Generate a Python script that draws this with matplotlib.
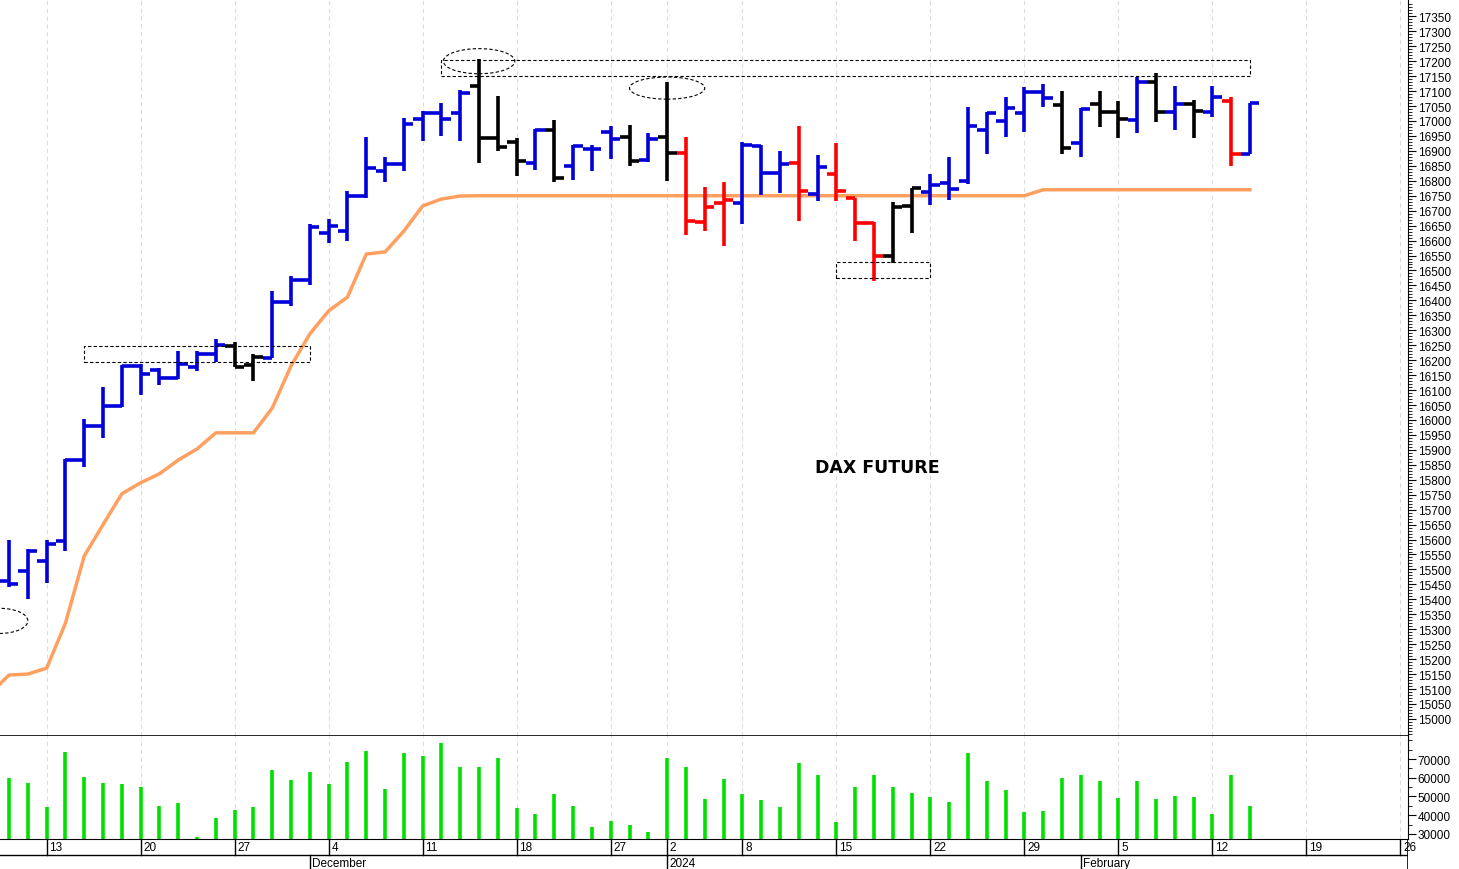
import matplotlib
matplotlib.use("Agg")
import matplotlib.pyplot as plt
from matplotlib.patches import Rectangle, Ellipse

plt.rcParams['font.family'] = ['Liberation Sans', 'DejaVu Sans']

# daily OHLC, Nov 9 2023 .. Feb 14 2024 (trading days)
opens = [15460, 15495, 15529, 15595, 15866, 15980, 16047, 16180, 16167, 16140,
         16177, 16221, 16247, 16184, 16207, 16395, 16468, 16625, 16632, 16749,
         16833, 16856, 17007, 17027, 17027, 17117, 16943, 16930, 16860, 16970,
         16850, 16906, 16963, 16946, 16870, 16946, 16893, 16662, 16726, 16726,
         16916, 16826, 16860, 16756, 16823, 16743, 16659, 16549, 16716, 16761,
         16794, 16800, 16971, 17001, 17027, 17096, 17053, 16926, 17057, 17031,
         17003, 17132, 17031, 17057, 17029, 17068, 16891]
highs = [15600, 15569, 15599, 15870, 16003, 16110, 16184, 16187, 16174, 16231,
         16231, 16271, 16261, 16221, 16432, 16482, 16656, 16672, 16766, 16946,
         16880, 17010, 17033, 17060, 17104, 17207, 17084, 16943, 16973, 17003,
         16920, 16920, 16983, 16987, 16960, 17130, 16946, 16779, 16796, 16930,
         16920, 16900, 16983, 16886, 16926, 16743, 16662, 16729, 16776, 16822,
         16878, 17046, 17029, 17081, 17113, 17124, 17099, 17043, 17099, 17068,
         17146, 17160, 17116, 17071, 17116, 17079, 17060]
lows = [15440, 15402, 15455, 15562, 15843, 15940, 16044, 16084, 16117, 16137,
        16164, 16194, 16177, 16130, 16207, 16381, 16452, 16592, 16599, 16743,
        16796, 16833, 16933, 16950, 16933, 16860, 16900, 16816, 16836, 16796,
        16803, 16833, 16873, 16850, 16863, 16799, 16619, 16632, 16582, 16656,
        16753, 16759, 16666, 16732, 16732, 16599, 16465, 16525, 16625, 16719,
        16735, 16789, 16889, 16948, 16962, 17046, 16889, 16878, 16979, 16943,
        16960, 16998, 16971, 16943, 17014, 16850, 16889]
closes = [15450, 15562, 15585, 15866, 15980, 16047, 16180, 16154, 16140, 16187,
          16221, 16251, 16177, 16211, 16395, 16468, 16646, 16649, 16749, 16843,
          16856, 16990, 17027, 17007, 17094, 16943, 16913, 16866, 16970, 16809,
          16916, 16906, 16940, 16866, 16940, 16893, 16666, 16712, 16736, 16920,
          16826, 16856, 16766, 16846, 16766, 16659, 16549, 16712, 16776, 16785,
          16774, 16984, 17027, 17043, 17096, 17076, 16909, 17040, 17031, 17006,
          17132, 17031, 17057, 17034, 17079, 16891, 17060]
bar_colors = list("BBBBBBBBBBBBKKBBBBBBBBBBBKKKBKBBBKBKRRRBBBRBRRRKKBBBBBBBKBKKBKBKBRB")
# moving average starts one day earlier (Nov 8)
moving_avg = [15085, 15147, 15150, 15170, 15320, 15545, 15650, 15753, 15790, 15820,
              15866, 15903, 15957, 15957, 15957, 16040, 16181, 16288, 16365, 16411,
              16555, 16562, 16632, 16716, 16739, 16749] + [16750] * 30 + [16770] * 12
volume = [60100, 57400, 44200, 73900, 60400, 57400, 56900, 55300, 44700, 46600,
          28600, 38500, 42900, 44200, 64300, 59000, 63100, 56900, 68200, 74200,
          53900, 73400, 71800, 78500, 65600, 65900, 70700, 43800, 40600, 51200,
          44700, 33900, 36700, 34800, 31200, 70700, 65600, 48900, 59200, 51200,
          48200, 44500, 67700, 61300, 36200, 54800, 61700, 55300, 51800, 49500,
          47300, 73000, 58500, 53400, 41500, 42000, 59900, 61700, 58100, 49300,
          58100, 48400, 50200, 49600, 40600, 61700, 45000]

day_ticks = [2, 7, 12, 17, 22, 27, 32, 35, 39, 44, 49, 54, 59, 64, 69, 74]
day_labels = ["13", "20", "27", "4", "11", "18", "27", "2", "8", "15", "22", "29",
              "5", "12", "19", "26"]
month_pos = [16, 35, 57]
month_labels = ["December", "2024", "February"]

cmap = {"B": "#0000d8", "R": "#ff0000", "K": "#000000"}
n = len(closes)
x = list(range(n))
xlim = (-0.48, 74.4)

fig = plt.figure(figsize=(14.59, 8.7), dpi=100)
ax = fig.add_axes([0, 0.1529, 0.965, 0.8471])
axv = fig.add_axes([0, 0.0345, 0.965, 0.1184], sharex=ax)
axd = fig.add_axes([0, 0, 0.965, 0.0345], sharex=ax)

for a in (ax, axv):
    for t in day_ticks:
        a.axvline(t, color="#dddddd", lw=0.8, ls=(0, (4, 3)), zorder=0)

ax.plot(range(-1, n), moving_avg, color="#ffa060", lw=2.5, zorder=2)
cols = [cmap[c] for c in bar_colors]
ax.vlines(x, lows, highs, colors=cols, lw=2.6, zorder=3)
ax.hlines(opens, [i - 0.5 for i in x], x, colors=cols, lw=2.6, zorder=3)
ax.hlines(closes, x, [i + 0.5 for i in x], colors=cols, lw=2.6, zorder=3)

dash = dict(fill=False, ls=(0, (3, 2)), lw=0.8, ec="black", zorder=4)
ax.add_patch(Rectangle((4, 16194), 12, 54, **dash))
ax.add_patch(Rectangle((23, 17150), 43, 54, **dash))
ax.add_patch(Rectangle((44, 16475), 5, 53, **dash))
ax.add_patch(Ellipse((25, 17200), 3.8, 84, **dash))
ax.add_patch(Ellipse((35, 17110), 4.0, 74, **dash))
ax.add_patch(Ellipse((-0.5, 15328), 3.0, 84, **dash))

ax.text(46.2, 15843, "DAX FUTURE", family="DejaVu Sans", fontweight="bold",
        fontsize=12.5, ha="center", va="center")

ax.set_xlim(*xlim)
ax.set_ylim(14943, 17408)
ax.yaxis.tick_right()
ax.set_yticks(range(15000, 17351, 50))
ax.set_yticks(range(14950, 17400, 10), minor=True)
ax.tick_params(axis="y", which="major", labelsize=8.5, length=6, pad=1)
ax.tick_params(axis="y", which="minor", length=3)
ax.tick_params(axis="x", bottom=False, labelbottom=False)
for s in ("left", "top"):
    ax.spines[s].set_visible(False)
ax.spines["bottom"].set_linewidth(1.2)

axv.vlines(x, 0, volume, colors="#00e000", lw=2.6)
axv.set_ylim(27300, 82300)
axv.yaxis.tick_right()
axv.set_yticks(range(30000, 70001, 10000))
axv.set_yticks(range(30000, 82001, 5000), minor=True)
axv.tick_params(axis="y", which="major", labelsize=8.5, length=6, pad=1)
axv.tick_params(axis="y", which="minor", length=3)
axv.tick_params(axis="x", bottom=False, labelbottom=False)
for s in ("left", "top"):
    axv.spines[s].set_visible(False)

axd.set_ylim(0, 1)
axd.axis("off")
axd.axhline(0.45, color="black", lw=1)
axd.axhline(1.0, color="black", lw=1.2)
axd.axvline(xlim[1], color="black", lw=1.2)
for t, lab in zip(day_ticks, day_labels):
    axd.plot([t, t], [0.45, 1], color="black", lw=1)
    axd.text(t + 0.15, 0.72, lab, fontsize=8.5, va="center", ha="left")
for t, lab in zip(month_pos, month_labels):
    axd.plot([t, t], [0, 0.45], color="black", lw=1)
    axd.text(t + 0.12, 0.2, lab, fontsize=8.5, va="center", ha="left")

fig.savefig("out.png", dpi=100)
